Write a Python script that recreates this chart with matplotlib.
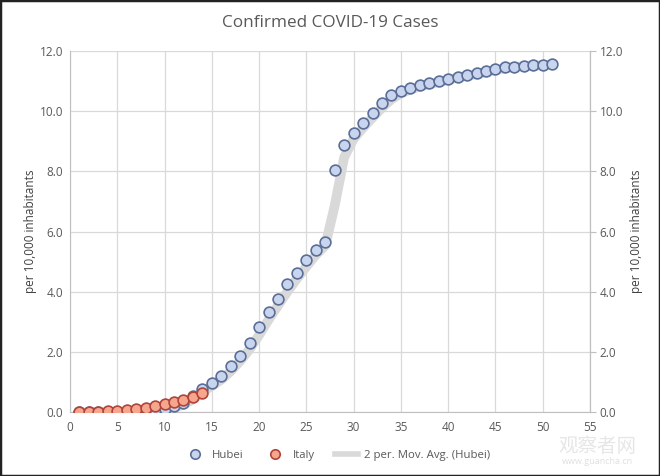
import numpy as np
import pandas as pd
import matplotlib
matplotlib.use("Agg")
import matplotlib.pyplot as plt
from matplotlib.lines import Line2D
from matplotlib.patches import Rectangle

plt.rcParams['font.family'] = ['Open Sans', 'DejaVu Sans']

title = "Confirmed COVID-19 Cases"
ylabel = "per 10,000 inhabitants"

hubei_days = list(range(1, 52))
hubei_vals = [0.00, 0.00, 0.00, 0.01, 0.01, 0.02, 0.03, 0.05, 0.08, 0.12,
              0.19, 0.30, 0.55, 0.78, 0.96, 1.20, 1.52, 1.88, 2.30, 2.82,
              3.32, 3.76, 4.25, 4.62, 5.05, 5.40, 5.67, 8.06, 8.88, 9.28,
              9.62, 9.95, 10.27, 10.52, 10.66, 10.78, 10.86, 10.93, 11.00, 11.08,
              11.15, 11.20, 11.26, 11.32, 11.40, 11.45, 11.48, 11.50, 11.52, 11.54,
              11.55]

italy_days = list(range(1, 15))
italy_vals = [0.00, 0.01, 0.02, 0.04, 0.05, 0.07, 0.11, 0.15, 0.19, 0.28,
              0.34, 0.42, 0.51, 0.63]

labels = ["Hubei", "Italy", "2 per. Mov. Avg. (Hubei)"]
xticks = list(range(0, 56, 5))
yticks = [0, 2, 4, 6, 8, 10, 12]

fig = plt.figure(figsize=(6.6, 4.76), dpi=100)
ax = fig.add_axes([0.106, 0.134, 0.788, 0.759])

grid_c = "#d9d9d9"
axis_c = "#bfbfbf"
text_c = "#595959"

mov = pd.Series(hubei_vals, index=hubei_days).rolling(2).mean()
ax.plot(mov.index, mov.values, color="#d9d9d9", lw=7, solid_capstyle="butt", zorder=2)

ax.scatter(hubei_days, hubei_vals, s=60, facecolor="#c9d5ee", edgecolor="#5a6e98",
           linewidths=1.2, zorder=3)
ax.scatter(italy_days, italy_vals, s=60, facecolor="#f5a68c", edgecolor="#b0443a",
           linewidths=1.2, zorder=4)

ax.set_xlim(0, 55)
ax.set_ylim(0, 12)
ax.set_xticks(xticks)
ax.set_yticks(yticks)
ax.set_yticklabels([f"{v:.1f}" for v in yticks])
ax.grid(True, color=grid_c, lw=0.9)
ax.set_axisbelow(True)
ax.spines["top"].set_visible(False)
for s in ["left", "bottom", "right"]:
    ax.spines[s].set_color(axis_c)
ax.tick_params(axis="both", colors=text_c, labelsize=8.5, length=0, pad=6)
ax.tick_params(axis="y", pad=5)
ax.set_ylabel(ylabel, color="#404040", fontsize=8.5, labelpad=2)

ax2 = ax.twinx()
ax2.set_ylim(0, 12)
ax2.set_yticks(yticks)
ax2.set_yticklabels([f"{v:.1f}" for v in yticks])
for s in ["top", "left", "bottom"]:
    ax2.spines[s].set_visible(False)
ax2.spines["right"].set_color(axis_c)
ax2.tick_params(axis="y", colors=text_c, labelsize=8.5, length=4, direction="out",
                color=axis_c, pad=3)
ax2.set_ylabel(ylabel, color="#404040", fontsize=8.5, labelpad=5)

fig.text(0.5, 0.952, title, ha="center", va="center", fontsize=12.3, color="#595959")

handles = [
    Line2D([], [], marker="o", ls="none", markersize=6.8, markerfacecolor="#c9d5ee",
           markeredgecolor="#5a6e98", markeredgewidth=1.2),
    Line2D([], [], marker="o", ls="none", markersize=6.8, markerfacecolor="#f5a68c",
           markeredgecolor="#b0443a", markeredgewidth=1.2),
    Line2D([], [], color="#d9d9d9", lw=4),
]
fig.legend(handles, labels, loc="center", bbox_to_anchor=(0.51, 0.043), ncol=3,
           frameon=False, fontsize=8.2, labelcolor=text_c, handlelength=2.0,
           columnspacing=1.8, handletextpad=0.5)

fig.text(0.905, 0.062, "观察者网", ha="center", va="center", fontsize=14,
         color="#e6e6e6", family=["Noto Sans CJK SC", "DejaVu Sans"], zorder=10)
fig.text(0.905, 0.030, "www.guancha.cn", ha="center", va="center", fontsize=6.5,
         color="#e0e0e0", zorder=10)

fig.patches.append(Rectangle((0, 0), 1, 1, transform=fig.transFigure, fill=False,
                             edgecolor="#222222", lw=2.5, zorder=20))

fig.savefig("out.png", dpi=100)
